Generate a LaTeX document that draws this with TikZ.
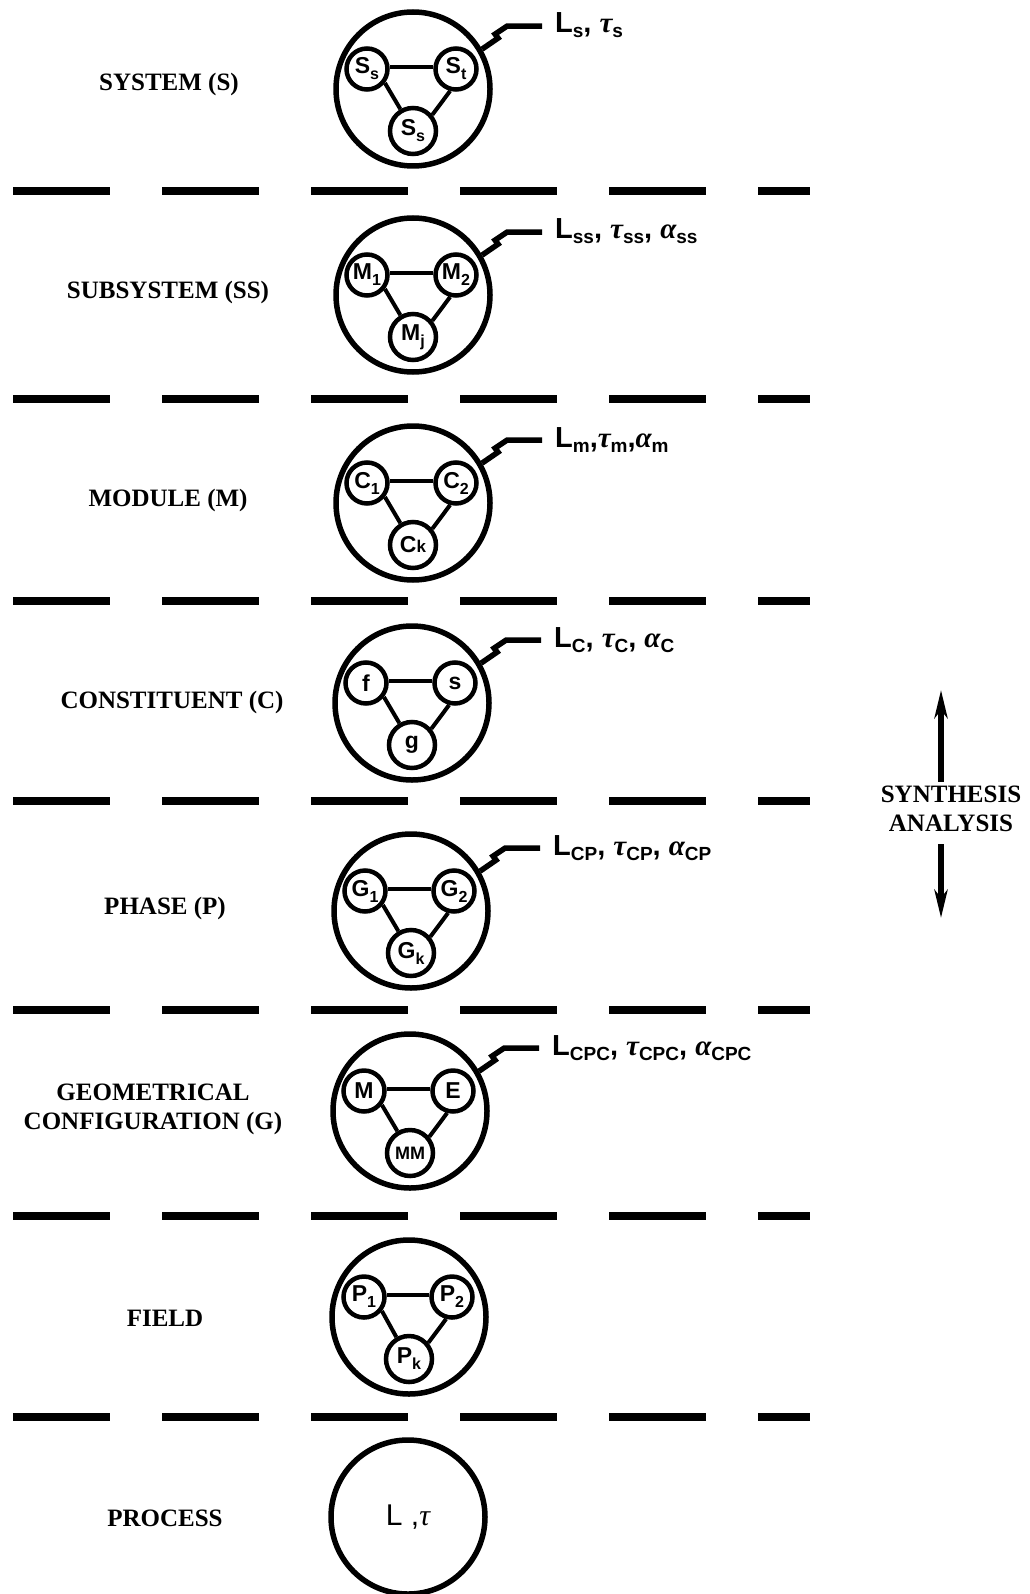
\documentclass[tikz,border=0pt]{standalone}
\usepackage{fontspec}
\setmainfont{Liberation Serif}
\newfontfamily\labsans{Liberation Sans}
\newfontfamily\grk{Liberation Serif}
\usetikzlibrary{arrows.meta}
\newcommand\lvlfont{\bfseries\fontsize{25}{29}\selectfont}
\newcommand\rlabfont{\labsans\bfseries\fontsize{29}{29}\selectfont}
\newcommand\smfont{\labsans\bfseries\fontsize{23}{23}\selectfont}
\newcommand\procfont{\labsans\fontsize{30}{30}\selectfont}
\newcommand\gk[1]{{\grk\bfseries\itshape #1}}
\newcommand\rs[1]{\raisebox{-5pt}{\fontsize{19}{19}\selectfont #1}}
\newcommand\smsub[1]{\raisebox{-6pt}{\fontsize{16}{16}\selectfont #1}}
\newcommand\lvlrow[7]{%
  \node[big] (#1big) at (#2,#3) {};
  \node[sm] (#1L) at (#2-46,#3-20) {#4};
  \node[sm] (#1R) at (#2+43,#3-20) {#5};
  \node[smb] (#1B) at (#2,#3+42) {#6};
  \draw[link] (#1L.5) -- (#1R.175);
  \draw[link] (#1L.-38) -- (#1B.120);
  \draw[link] (#1R.-105) -- (#1B.40);
  \draw[leader] (#1big.30) -- ++(16,-11) -- ++(-3,-4) -- ++(12,-8) -- ++(35,0) coordinate (#1end);
  \node[rlab] (#1lab) at (#2+142,#3-56) {#7};
}
\begin{document}
\begin{tikzpicture}[x=1pt,y=-1pt,
  big/.style={circle,draw,line width=5.5pt,minimum size=154pt,inner sep=0pt},
  sm/.style={circle,draw,fill=white,line width=4.5pt,minimum size=41pt,inner sep=0pt,font=\smfont},
  smb/.style={sm,minimum size=46pt},
  link/.style={line width=4pt},
  leader/.style={line width=5.5pt,line join=miter,line cap=butt},
  lvl/.style={font=\lvlfont,align=center,inner sep=0pt},
  rlab/.style={font=\rlabfont,inner sep=0pt,anchor=base west},
  sepline/.style={line width=7.5pt,dash pattern=on 97pt off 52pt},
  arr/.style={line width=5.5pt,-{Stealth[length=28pt,width=13pt,inset=8pt]}}
]
\useasboundingbox (0,0) rectangle (1029,1594);

% separators
\foreach \yy in {191,399,601,801,1010,1216,1417}
  \draw[sepline] (13,\yy) -- (810,\yy);

% level labels
\node[lvl] (lsys) at (169,84) {SYSTEM (S)};
\node[lvl] (lsub) at (168,292) {SUBSYSTEM (SS)};
\node[lvl] (lmod) at (168,500) {MODULE (M)};
\node[lvl] (lcon) at (172,702) {CONSTITUENT (C)};
\node[lvl] (lpha) at (165,908) {PHASE (P)};
\node[lvl] (lgeo) at (153,1109) {GEOMETRICAL\\CONFIGURATION (G)};
\node[lvl] (lfld) at (165,1318) {FIELD};
\node[lvl] (lpro) at (165,1518) {PROCESS};

% rows
\lvlrow{sys}{413}{89}{S\smsub{s}}{S\smsub{t}}{S\smsub{s}}{L\rs{s}, \gk{τ}\rs{s}}
\lvlrow{sub}{413}{295}{M\smsub{1}}{M\smsub{2}}{M\smsub{j}}{L\rs{ss}, \gk{τ}\rs{ss}, \gk{α}\rs{ss}}
\lvlrow{mod}{413}{503}{C\smsub{1}}{C\smsub{2}}{C{\fontsize{17}{17}\selectfont k}}{L\rs{m},\gk{τ}\rs{m},\gk{α}\rs{m}}
\lvlrow{con}{412}{703}{f}{s}{g}{L\rs{C}, \gk{τ}\rs{C}, \gk{α}\rs{C}}
\lvlrow{pha}{411}{911}{G\smsub{1}}{G\smsub{2}}{G\smsub{k}}{L\rs{CP}, \gk{τ}\rs{CP}, \gk{α}\rs{CP}}
\lvlrow{geo}{410}{1111}{M}{E}{{\fontsize{18}{18}\selectfont MM}}{L\rs{CPC}, \gk{τ}\rs{CPC}, \gk{α}\rs{CPC}}
\node[big] (fldbig) at (409,1317) {};
\node[sm] (fldL) at (364,1297) {P\smsub{1}};
\node[sm] (fldR) at (452,1297) {P\smsub{2}};
\node[smb] (fldB) at (409,1359) {P\smsub{k}};
\draw[link] (fldL.5) -- (fldR.175);
\draw[link] (fldL.-38) -- (fldB.120);
\draw[link] (fldR.-105) -- (fldB.40);

\node[big,font=\procfont] (probig) at (408,1517) {L ,{\grk\itshape τ}};

% synthesis / analysis
\node[lvl] (sa) at (951,809) {SYNTHESIS\\ANALYSIS};
\coordinate (upTip) at (941,690);
\coordinate (dnTip) at (941,918);
\draw[arr] (sa.north -| upTip) ++(0,-4) -- (upTip);
\draw[arr] (sa.south -| dnTip) ++(0,12) -- (dnTip);
\end{tikzpicture}
\end{document}
